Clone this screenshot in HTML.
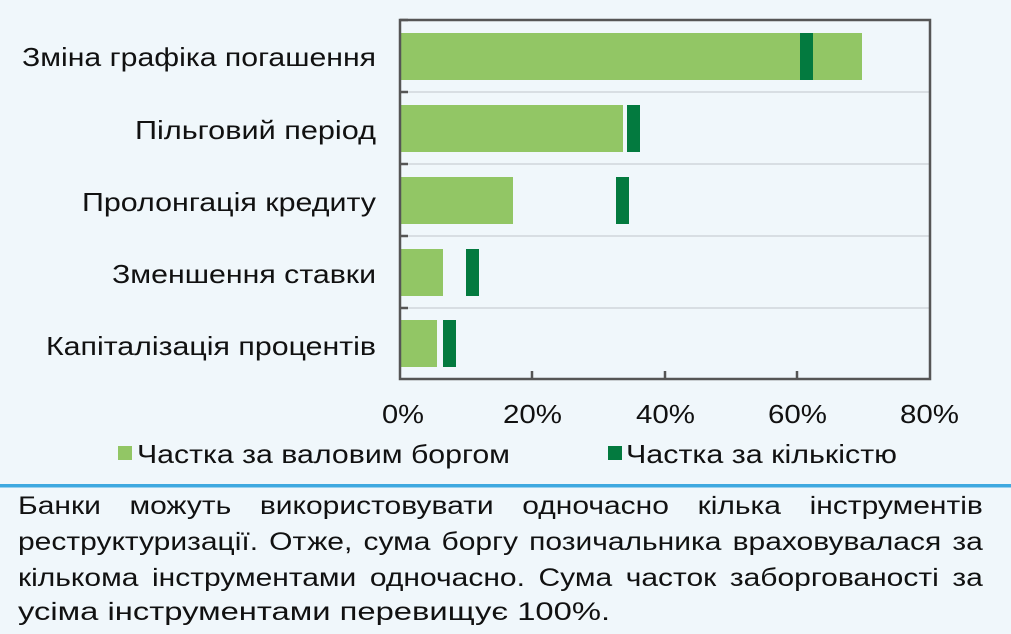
<!DOCTYPE html>
<html><head><meta charset="utf-8"><style>
body{margin:0;width:1011px;height:634px;background:#f0f7fb;font-family:"Liberation Sans",sans-serif;color:#111;overflow:hidden}
.l{position:absolute;left:18px;width:804px;font-size:25px;line-height:30px;white-space:nowrap;text-align:justify;text-align-last:justify;transform:scaleX(1.2);transform-origin:0 0;color:#111}
</style></head><body>
<svg width="1011" height="634" style="position:absolute;left:0;top:0" font-family="Liberation Sans, sans-serif" fill="#111">
<g stroke="#cfd6db" stroke-width="1.5">
<line x1="400" y1="92" x2="930" y2="92"/><line x1="400" y1="164" x2="930" y2="164"/><line x1="400" y1="236" x2="930" y2="236"/><line x1="400" y1="308" x2="930" y2="308"/>
</g>
<g fill="#92c665">
<rect x="401" y="33" width="461" height="47"/><rect x="401" y="105" width="222" height="47"/><rect x="401" y="177" width="112" height="47"/><rect x="401" y="249" width="42" height="47"/><rect x="401" y="320" width="36" height="47"/>
</g>
<g fill="#037a3f">
<rect x="800" y="33" width="13" height="47"/><rect x="627" y="105" width="13" height="47"/><rect x="616" y="177" width="13" height="47"/><rect x="466" y="249" width="13" height="47"/><rect x="443" y="320" width="13" height="47"/>
</g>
<g stroke="#555" stroke-width="2.5" fill="none">
<rect x="400" y="20" width="530" height="359"/>
<path d="M400 20h8M400 92h8M400 164h8M400 236h8M400 308h8M532 379v-8M665 379v-8M797 379v-8"/>
</g>
<g font-size="26">
<text x="22" y="66" textLength="354" lengthAdjust="spacingAndGlyphs">Зміна графіка погашення</text>
<text x="135" y="139" textLength="241" lengthAdjust="spacingAndGlyphs">Пільговий період</text>
<text x="82" y="211" textLength="294" lengthAdjust="spacingAndGlyphs">Пролонгація кредиту</text>
<text x="112" y="283" textLength="264" lengthAdjust="spacingAndGlyphs">Зменшення ставки</text>
<text x="46" y="355" textLength="330" lengthAdjust="spacingAndGlyphs">Капіталізація процентів</text>
<text x="382" y="423" textLength="42" lengthAdjust="spacingAndGlyphs">0%</text>
<text x="503" y="423" textLength="59" lengthAdjust="spacingAndGlyphs">20%</text>
<text x="636" y="423" textLength="59" lengthAdjust="spacingAndGlyphs">40%</text>
<text x="768" y="423" textLength="59" lengthAdjust="spacingAndGlyphs">60%</text>
<text x="900" y="423" textLength="59" lengthAdjust="spacingAndGlyphs">80%</text>
<text x="137" y="463" textLength="373" lengthAdjust="spacingAndGlyphs">Частка за валовим боргом</text>
<text x="626" y="463" textLength="271" lengthAdjust="spacingAndGlyphs">Частка за кількістю</text>
</g>
<rect x="118" y="446" width="14" height="14" fill="#92c665"/>
<rect x="608" y="446" width="14" height="14" fill="#037a3f"/>
<rect x="0" y="484" width="1011" height="3.5" fill="#3fa9e0"/>
</svg>
<div class="l" style="top:491px">Банки можуть використовувати одночасно кілька інструментів</div>
<div class="l" style="top:527px">реструктуризації. Отже, сума боргу позичальника враховувалася за</div>
<div class="l" style="top:563px">кількома інструментами одночасно. Сума часток заборгованості за</div>
<div class="l" style="top:597px;text-align-last:left;transform:scaleX(1.31)">усіма інструментами перевищує 100%.</div>
</body></html>
